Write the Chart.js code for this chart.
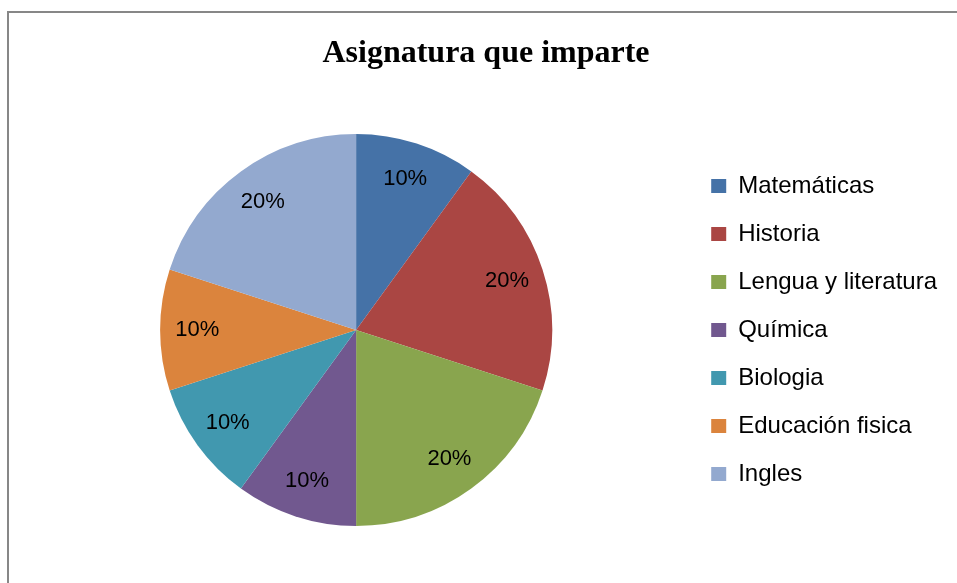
<!DOCTYPE html>
<html>
<head>
<meta charset="utf-8">
<script src="https://cdn.jsdelivr.net/npm/chart.js@4.4.1/dist/chart.umd.min.js"></script>
<style>
    html, body { margin: 0; padding: 0; background: #fff; overflow: hidden; }
    #frame {
        position: absolute; left: 7px; top: 11px; width: 980px; height: 600px;
        border-left: 2px solid #878787; border-top: 2px solid #878787;
    }
    #wrap { position: absolute; left: 0; top: 0; width: 957px; height: 583px; }
</style>
</head>
<body>
<div id="frame"></div>
<div id="wrap"><canvas id="pie-chart"></canvas></div>
<script>
// Datos del grafico
const categories = ['Matemáticas', 'Historia', 'Lengua y literatura', 'Química', 'Biologia', 'Educación fisica', 'Ingles'];
const percentages = [10, 20, 20, 10, 10, 10, 20];
const sliceColors = ['#4572A7', '#AA4643', '#89A54E', '#71588F', '#4198AF', '#DB843D', '#93A9CF'];

// Etiquetas de porcentaje dentro de cada porcion
const sliceLabels = {
    id: 'sliceLabels',
    afterDatasetsDraw(chart) {
        const ctx = chart.ctx;
        const meta = chart.getDatasetMeta(0);
        ctx.save();
        ctx.font = '22px "Liberation Sans", Arial, sans-serif';
        ctx.fillStyle = '#000';
        ctx.textAlign = 'center';
        ctx.textBaseline = 'middle';
        meta.data.forEach((arc, i) => {
            const mid = (arc.startAngle + arc.endAngle) / 2;
            const r = arc.outerRadius * 0.81;
            ctx.fillText(percentages[i] + '%', arc.x + Math.cos(mid) * r, arc.y + Math.sin(mid) * r);
        });
        ctx.restore();
    }
};

document.addEventListener('DOMContentLoaded', function() {
    const canvas = document.getElementById('pie-chart');
    new Chart(canvas, {
        type: 'pie',
        data: {
            labels: categories,
            datasets: [{
                data: percentages,
                backgroundColor: sliceColors,
                borderWidth: 0,
                hoverOffset: 0
            }]
        },
        options: {
            responsive: true,
            maintainAspectRatio: false,
            animation: false,
            radius: 196,
            layout: { padding: { left: 25, right: 10, top: 11, bottom: 57 } },
            plugins: {
                title: {
                    display: true,
                    text: 'Asignatura que imparte',
                    color: '#000',
                    font: { family: '"Liberation Serif", "Times New Roman", serif', size: 32, weight: 'bold', lineHeight: 1.2 },
                    padding: { top: 23.5, bottom: 61.1 }
                },
                legend: {
                    position: 'right',
                    fullSize: false,
                    labels: {
                        color: '#000',
                        font: { family: '"Liberation Sans", Arial, sans-serif', size: 24 },
                        boxWidth: 15,
                        boxHeight: 14,
                        padding: 24
                    }
                },
                tooltip: { enabled: false }
            }
        },
        plugins: [sliceLabels]
    });
});
</script>
</body>
</html>
